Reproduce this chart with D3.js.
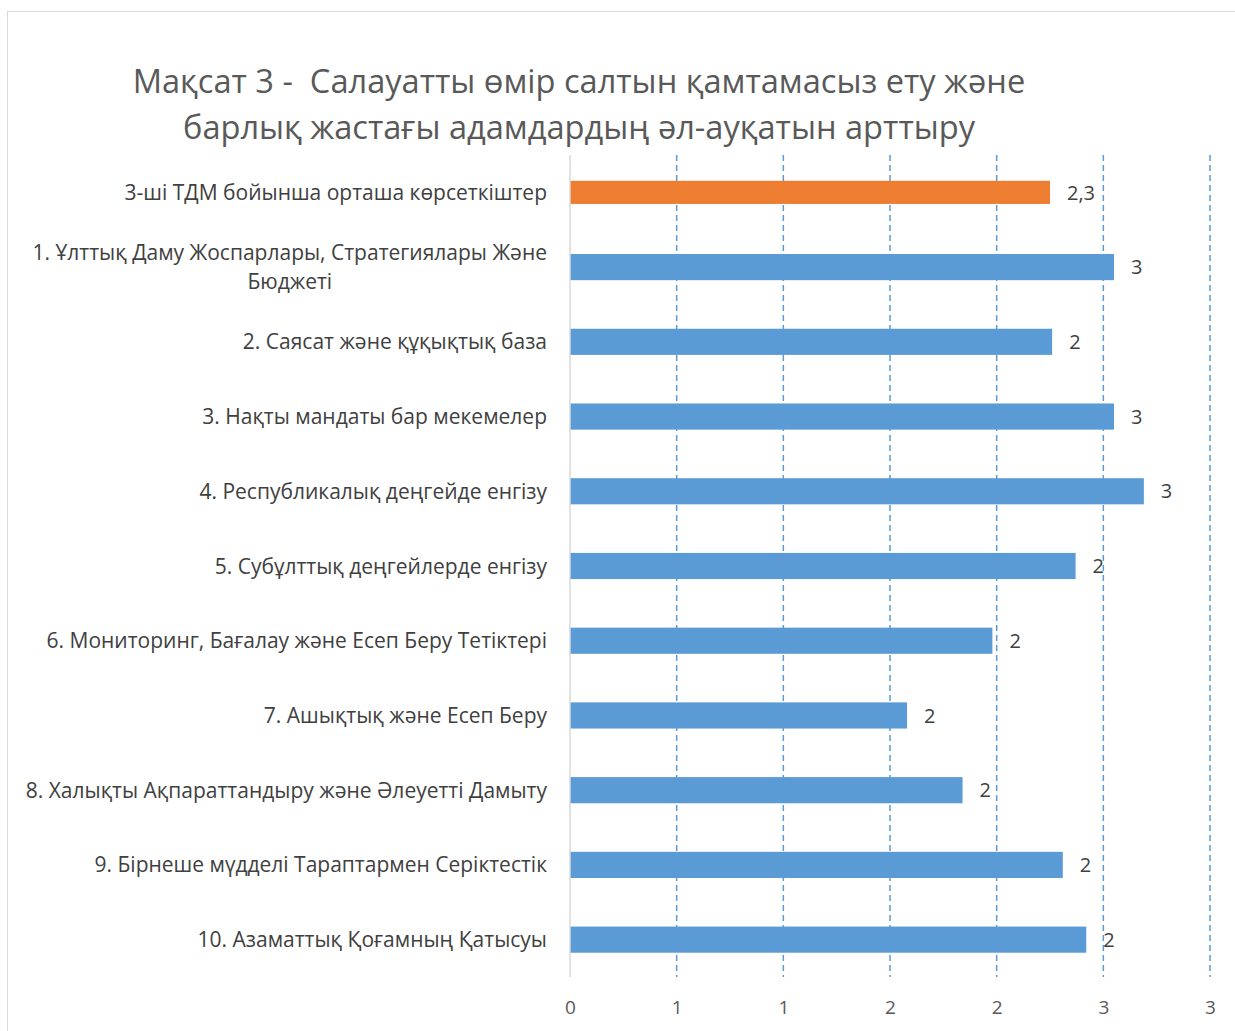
<!DOCTYPE html>
<html>
<head>
<meta charset="utf-8">
<script src="https://cdn.jsdelivr.net/npm/d3@7"></script>
<style>
  body { margin: 0; background: #fff; }
  svg { display: block; font-family: "Open Sans", "Noto Sans", sans-serif; }
  text { white-space: pre; }
</style>
</head>
<body>
<svg id="chart" width="1235" height="1031"></svg>
<script>
const titleLines = [
    'Мақсат 3 -  Салауатты өмір салтын қамтамасыз ету және',
    'барлық жастағы адамдардың әл-ауқатын арттыру'
];

const categories = [
    '3-ші ТДМ бойынша орташа көрсеткіштер',
    '1. Ұлттық Даму Жоспарлары, Стратегиялары Және Бюджеті',
    '2. Саясат және құқықтық база',
    '3. Нақты мандаты бар мекемелер',
    '4. Республикалық деңгейде енгізу',
    '5. Субұлттық деңгейлерде енгізу',
    '6. Мониторинг, Бағалау және Есеп Беру Тетіктері',
    '7. Ашықтық және Есеп Беру',
    '8. Халықты Ақпараттандыру және Әлеуетті Дамыту',
    '9. Бірнеше мүдделі Тараптармен Серіктестік',
    '10. Азаматтық Қоғамның Қатысуы'
];

const values = [2.25, 2.55, 2.26, 2.55, 2.69, 2.37, 1.98, 1.58, 1.84, 2.31, 2.42];

// the first bar is the average, labelled with one decimal
const labelDecimals = [1, 0, 0, 0, 0, 0, 0, 0, 0, 0, 0];

const tickValues = [0, 0.5, 1, 1.5, 2, 2.5, 3];
const xDomain = [0, 3];

const svgEl = document.getElementById('chart');
const svg = d3.select(svgEl);
const margin = { top: 155, right: 25, bottom: 54, left: 570 };
const W = +svg.attr('width'), H = +svg.attr('height');

const kz = d3.formatLocale({ decimal: ',', thousands: ' ', grouping: [3], currency: ['', ''] });

// outer frame
svg.append('rect')
    .attr('x', 7.5).attr('y', 11.5)
    .attr('width', W).attr('height', H)
    .attr('fill', '#fff').attr('stroke', '#d9d9d9');

// title
svg.append('text')
    .attr('text-anchor', 'middle')
    .attr('fill', '#595959')
    .attr('font-size', 32.6)
    .selectAll('tspan')
    .data(titleLines)
    .enter().append('tspan')
    .attr('x', 579)
    .attr('y', (d, i) => 93 + i * 46)
    .text(d => d);

const x = d3.scaleLinear().domain(xDomain).range([margin.left, W - margin.right]);
const y = d3.scaleBand()
    .domain(categories)
    .range([margin.top, H - margin.bottom])
    .paddingInner(0.65)
    .paddingOuter(0.325);

// grid
svg.append('g')
    .selectAll('line')
    .data(tickValues.filter(t => t > 0))
    .enter().append('line')
    .attr('x1', d => x(d)).attr('x2', d => x(d))
    .attr('y1', margin.top).attr('y2', H - margin.bottom)
    .attr('stroke', '#5b9bd5').attr('stroke-width', 1.5)
    .attr('stroke-dasharray', '6,4');

// bars
svg.append('g')
    .selectAll('rect')
    .data(values)
    .enter().append('rect')
    .attr('x', x(0))
    .attr('y', (d, i) => y(categories[i]) + (i === 0 ? 1.5 : 0))
    .attr('width', d => x(d) - x(0))
    .attr('height', (d, i) => y.bandwidth() - (i === 0 ? 3 : 0))
    .attr('fill', (d, i) => i === 0 ? '#ed7d31' : '#5b9bd5');

// category axis line
svg.append('line')
    .attr('x1', x(0)).attr('x2', x(0))
    .attr('y1', margin.top).attr('y2', H - margin.bottom)
    .attr('stroke', '#d9d9d9').attr('stroke-width', 1.5);

// value labels
svg.append('g')
    .selectAll('text')
    .data(values)
    .enter().append('text')
    .attr('x', d => x(d) + 17)
    .attr('y', (d, i) => y(categories[i]) + y.bandwidth() / 2)
    .attr('dy', '0.36em')
    .attr('font-size', 20)
    .attr('fill', '#404040')
    .text((d, i) => kz.format('.' + labelDecimals[i] + 'f')(d));

// category labels, wrapped when too long
const labelMax = 530;
const catG = svg.append('g').attr('font-size', 21).attr('fill', '#404040');
categories.forEach(c => {
    const cy = y(c) + y.bandwidth() / 2;
    const t = catG.append('text').attr('x', 547).attr('y', cy).attr('dy', '0.36em')
        .attr('text-anchor', 'end').text(c);
    if (t.node().getComputedTextLength() <= labelMax) return;
    const words = c.split(' ');
    let lines = [], cur = [];
    words.forEach(w => {
        t.text(cur.concat(w).join(' '));
        if (t.node().getComputedTextLength() > labelMax && cur.length) {
            lines.push(cur.join(' '));
            cur = [w];
        } else cur.push(w);
    });
    lines.push(cur.join(' '));
    t.text(null);
    const widths = lines.map(l => { t.text(l); return t.node().getComputedTextLength(); });
    const blockW = d3.max(widths);
    t.text(null).attr('text-anchor', 'middle');
    const lh = 29;
    lines.forEach((l, i) => {
        t.append('tspan')
            .attr('x', 547 - blockW / 2)
            .attr('y', cy + (i - (lines.length - 1) / 2) * lh)
            .attr('dy', '0.36em')
            .text(l);
    });
});

// value axis
const xAxis = d3.axisBottom(x)
    .tickValues(tickValues)
    .tickFormat(d3.format('.0f'))
    .tickSize(0)
    .tickPadding(24);

svg.append('g')
    .attr('transform', `translate(0,${H - margin.bottom})`)
    .call(xAxis)
    .call(g => g.select('.domain').remove())
    .selectAll('text')
    .attr('font-size', 19)
    .attr('font-family', '"Open Sans", "Noto Sans", sans-serif')
    .attr('fill', '#595959');
</script>
</body>
</html>
